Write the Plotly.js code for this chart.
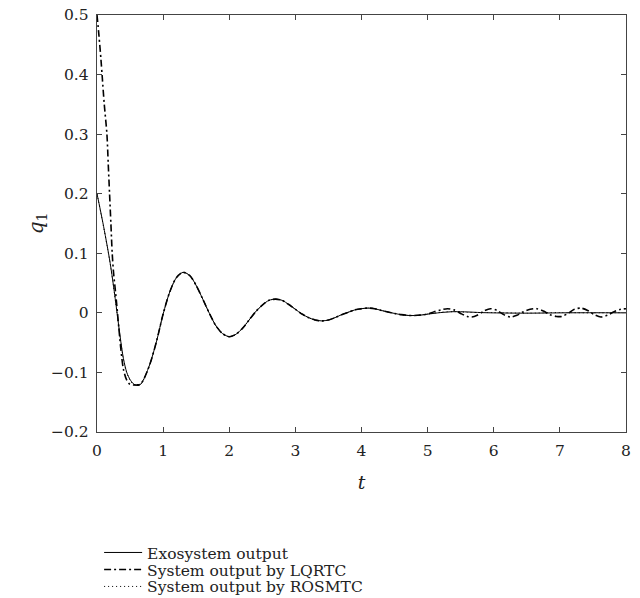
<!DOCTYPE html>
<html>
<head>
<meta charset="utf-8">
<script src="https://cdn.plot.ly/plotly-3.0.1.min.js"></script>
<style>
  html, body { margin: 0; padding: 0; background: #fff; }
  #chart { width: 640px; height: 598px; }
</style>
</head>
<body>
<div id="chart"></div>
<script>
// Exosystem output
const tExo = [0,0.05,0.1,0.15,0.2,0.25,0.3,0.35,0.4,0.45,0.5,0.55,0.6,0.65,0.7,0.8,0.9,1.0,1.1,1.2,1.3,1.4,1.5,1.6,1.7,1.8,1.9,2.0,2.1,2.2,2.3,2.4,2.5,2.6,2.7,2.8,2.9,3.0,3.1,3.2,3.3,3.4,3.5,3.6,3.7,3.8,3.9,4.0,4.1,4.2,4.3,4.4,4.5,4.6,4.7,4.8,4.9,5.0,5.2,5.4,5.6,5.8,6.0,6.5,7.0,7.5,8.0];
const qExo = [0.200,0.173,0.145,0.115,0.083,0.045,0.003,-0.040,-0.077,-0.100,-0.112,-0.119,-0.122,-0.121,-0.113,-0.086,-0.048,-0.002,0.035,0.059,0.068,0.063,0.046,0.023,-0.001,-0.022,-0.035,-0.040,-0.036,-0.026,-0.012,0.002,0.013,0.021,0.023,0.021,0.014,0.006,-0.002,-0.008,-0.012,-0.0135,-0.012,-0.008,-0.003,0.001,0.005,0.007,0.008,0.007,0.004,0.0015,-0.001,-0.003,-0.0043,-0.0045,-0.0037,-0.0022,0.0005,0.002,0.0015,0.0005,0.0,-0.0005,0.0,0.0002,0.0];

// System output by LQRTC
const tLqr = [0,0.03,0.06,0.08,0.11,0.15,0.17,0.19,0.21,0.23,0.25,0.28,0.3,0.33,0.36,0.4,0.45,0.5,0.55,0.6,0.65,0.7,0.8,0.9,1.0,1.1,1.2,1.3,1.4,1.5,1.6,1.7,1.8,1.9,2.0,2.1,2.2,2.3,2.4,2.5,2.6,2.7,2.8,2.9,3.0,3.1,3.2,3.3,3.4,3.5,3.6,3.7,3.8,3.9,4.0,4.1,4.2,4.3,4.4,4.5,4.6,4.7,4.8,4.9,5.0,5.1,5.2,5.3,5.4,5.5,5.6,5.67,5.75,5.85,5.95,6.05,6.15,6.25,6.35,6.45,6.55,6.65,6.75,6.85,6.95,7.03,7.12,7.22,7.32,7.42,7.52,7.62,7.72,7.82,7.92,8.0];
const qLqr = [0.500,0.465,0.425,0.395,0.350,0.300,0.250,0.200,0.150,0.100,0.068,0.035,0.012,-0.025,-0.060,-0.095,-0.113,-0.120,-0.121,-0.121,-0.120,-0.113,-0.086,-0.048,-0.002,0.035,0.059,0.068,0.063,0.046,0.023,-0.001,-0.022,-0.035,-0.040,-0.036,-0.026,-0.012,0.002,0.013,0.021,0.023,0.021,0.014,0.006,-0.002,-0.008,-0.012,-0.0135,-0.012,-0.008,-0.003,0.001,0.005,0.007,0.008,0.007,0.004,0.0015,-0.001,-0.003,-0.0043,-0.0045,-0.0037,-0.002,0.002,0.005,0.007,0.005,-0.001,-0.006,-0.007,-0.004,0.003,0.007,0.004,-0.003,-0.007,-0.004,0.002,0.006,0.007,0.003,-0.003,-0.006,-0.006,-0.001,0.006,0.008,0.004,-0.003,-0.007,-0.004,0.002,0.006,0.007];

// System output by ROSMTC
const tRos = [0,0.05,0.1,0.15,0.2,0.25,0.3,0.35,0.4,0.45,0.5,0.55,0.6,0.65,0.7,0.8,0.9,1.0,1.1,1.2,1.3,1.4,1.5,1.6,1.7,1.8,1.9,2.0,2.1,2.2,2.3,2.4,2.5,2.6,2.7,2.8,2.9,3.0,3.1,3.2,3.3,3.4,3.5,3.6,3.7,3.8,3.9,4.0,4.1,4.2,4.3,4.4,4.5,4.6,4.7,4.8,4.9,5.0,5.2,5.4,5.6,5.8,6.0,6.5,7.0,7.5,8.0];
const qRos = [0.200,0.172,0.144,0.114,0.082,0.044,0.002,-0.041,-0.078,-0.101,-0.113,-0.120,-0.122,-0.121,-0.113,-0.086,-0.048,-0.002,0.035,0.059,0.068,0.063,0.046,0.023,-0.001,-0.022,-0.035,-0.040,-0.036,-0.026,-0.012,0.002,0.013,0.021,0.023,0.021,0.014,0.006,-0.002,-0.008,-0.012,-0.0135,-0.012,-0.008,-0.003,0.001,0.005,0.007,0.008,0.007,0.004,0.0015,-0.001,-0.003,-0.0043,-0.0045,-0.0037,-0.002,0.001,0.002,0.001,0.0005,0.0005,-0.0005,0.0005,0.0,0.0005];

const xTicks = [0,1,2,3,4,5,6,7,8];
const yTicks = [-0.2,-0.1,0,0.1,0.2,0.3,0.4,0.5];

const serif = '"DejaVu Serif", "Liberation Serif", serif';
const ink = '#222';

const traces = [
  {x: tExo, y: qExo, name: 'Exosystem output', mode: 'lines', legend: 'legend',
   line: {color: '#000', width: 1, shape: 'spline', smoothing: 0.8}},
  {x: tLqr, y: qLqr, name: 'System output by LQRTC', mode: 'lines', legend: 'legend2',
   line: {color: '#000', width: 1.6, dash: '7px,3px,2px,3px', shape: 'spline', smoothing: 0.8}},
  {x: tRos, y: qRos, name: 'System output by ROSMTC', mode: 'lines', legend: 'legend3',
   line: {color: '#000', width: 1, dash: '1px,3px', shape: 'spline', smoothing: 0.8}}
];

const axisCommon = {
  showgrid: false, zeroline: false, showline: true, linecolor: '#444', linewidth: 1.3,
  ticks: 'inside', ticklen: 5, tickcolor: '#444', tickwidth: 1, mirror: 'ticks',
  tickfont: {family: serif, size: 15.5, color: ink}
};

function legendAt(y) {
  return {
    x: 0.004, xanchor: 'left', y: y, yanchor: 'middle',
    font: {family: serif, size: 15.5, color: ink},
    bgcolor: 'rgba(0,0,0,0)', itemwidth: 38, borderwidth: 0
  };
}

const layout = {
  width: 640, height: 598,
  margin: {l: 97, r: 14, t: 15, b: 166, autoexpand: false},
  paper_bgcolor: '#fff', plot_bgcolor: '#fff',
  showlegend: true,
  xaxis: Object.assign({}, axisCommon, {
    range: [0, 8], tickvals: xTicks, ticktext: xTicks.map(String), ticklabelstandoff: 4,
    title: {text: '<i>t</i>', font: {family: serif, size: 19, color: ink}, standoff: 16}
  }),
  yaxis: Object.assign({}, axisCommon, {
    range: [-0.2, 0.5], tickvals: yTicks, ticklabelstandoff: 4,
    ticktext: yTicks.map(v => v === 0 ? '0' : (v < 0 ? '\u2212' + Math.abs(v).toFixed(1) : v.toFixed(1))),
    title: {text: '<i>q</i><sub>1</sub>', font: {family: serif, size: 20, color: ink}, standoff: 2}
  }),
  legend: legendAt(-0.2899),
  legend2: legendAt(-0.3307),
  legend3: legendAt(-0.3714)
};

Plotly.newPlot('chart', traces, layout, {staticPlot: true, displayModeBar: false});
</script>
</body>
</html>
